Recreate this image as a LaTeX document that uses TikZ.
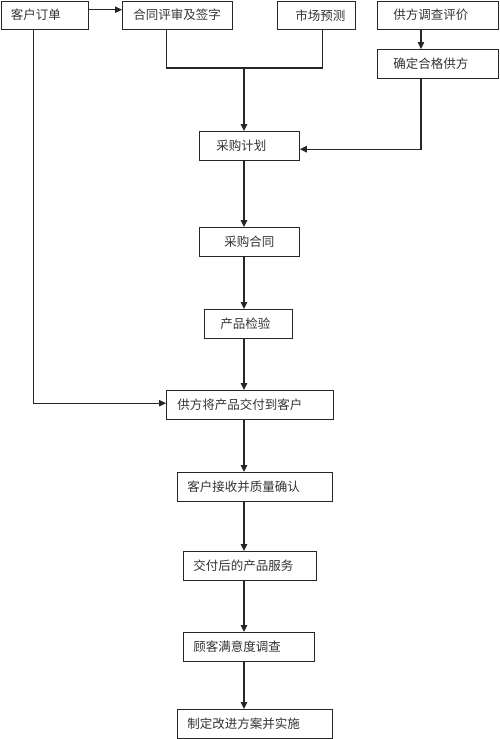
\documentclass[tikz,border=0pt]{standalone}
\usepackage{fontspec}
\newfontfamily\cjk{Noto Sans CJK SC}
\usetikzlibrary{arrows.meta}
\begin{document}
\begin{tikzpicture}[x=1pt,y=-1pt,
  stepbox/.style={draw=black!85,line width=0.9pt,rectangle,anchor=north west,
    inner xsep=0pt,inner ysep=0pt,align=left,minimum height=28.5pt,
    font=\cjk\fontsize{12.5}{14}\selectfont,text=black!80},
  link/.style={draw=black!85,line width=1.1pt},
  arr/.style={link,-{Triangle[length=7pt,width=6.5pt]}}]
\useasboundingbox (0,0) rectangle (500,739);
\node[stepbox,text width=87.5pt] (order) at (0.5,0.5) {\hspace*{10pt}客户订单};
\node[stepbox,text width=110pt] (review) at (122,0.5) {\hspace*{11pt}合同评审及签字};
\node[stepbox,text width=78pt] (market) at (277,0.5) {\hspace*{18pt}市场预测};
\node[stepbox,text width=121pt] (survey) at (377,0.5) {\hspace*{16pt}供方调查评价};
\node[stepbox,text width=121pt] (qualify) at (377,49) {\hspace*{16pt}确定合格供方};
\node[stepbox,text width=100pt] (plan) at (199,131) {\hspace*{17pt}采购计划};
\node[stepbox,text width=100pt] (pcontract) at (199,227) {\hspace*{25pt}采购合同};
\node[stepbox,text width=88pt] (inspect) at (204,309) {\hspace*{16pt}产品检验};
\node[stepbox,text width=167pt] (deliver) at (166,390) {\hspace*{11pt}供方将产品交付到客户};
\node[stepbox,text width=155pt] (accept) at (177,472) {\hspace*{10pt}客户接收并质量确认};
\node[stepbox,text width=133pt] (service) at (183,551) {\hspace*{10pt}交付后的产品服务};
\node[stepbox,text width=131pt] (csurvey) at (183,632) {\hspace*{10pt}顾客满意度调查};
\node[stepbox,text width=155pt] (improve) at (177,709) {\hspace*{10pt}制定改进方案并实施};
\coordinate (j) at (244,68);
\coordinate (mk) at ([xshift=6pt]market.south);
\coordinate (oa) at ([yshift=5.5pt]order.east);
\draw[arr] (oa) -- (review.west |- oa);
\draw[link] ([xshift=-11pt]review.south) |- (j) -| (mk);
\draw[arr] (j) -- (j |- plan.north);
\draw[arr] ([xshift=-17pt]survey.south) -- ([xshift=-17pt]qualify.north);
\draw[arr] ([xshift=-17pt]qualify.south) |- ([yshift=-3.5pt]plan.east);
\draw[arr] (j |- plan.south) -- (j |- pcontract.north);
\draw[arr] (j |- pcontract.south) -- (j |- inspect.north);
\draw[arr] (j |- inspect.south) -- (j |- deliver.north);
\draw[arr] ([xshift=-11pt]order.south) |- ([yshift=1.5pt]deliver.west);
\draw[arr] (j |- deliver.south) -- (j |- accept.north);
\draw[arr] (j |- accept.south) -- (j |- service.north);
\draw[arr] (j |- service.south) -- (j |- csurvey.north);
\draw[arr] (j |- csurvey.south) -- (j |- improve.north);
\end{tikzpicture}
\end{document}
